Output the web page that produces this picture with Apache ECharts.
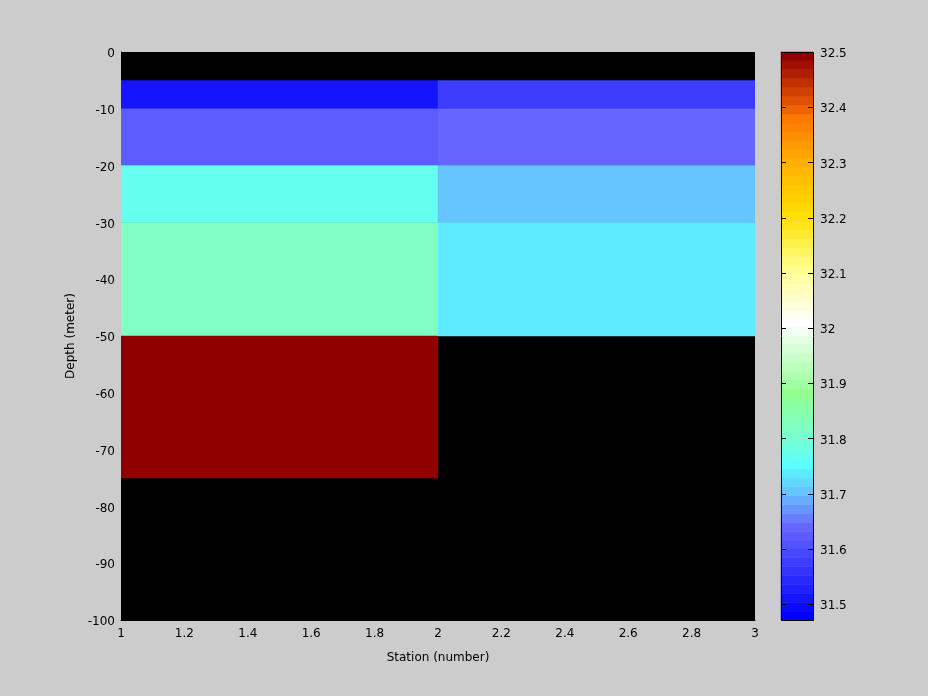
<!DOCTYPE html>
<html>
<head>
<meta charset="utf-8">
<script src="https://cdn.jsdelivr.net/npm/echarts@6/dist/echarts.min.js"></script>
<style>
html,body{margin:0;padding:0;background:#cccccc;}
#chart{width:928px;height:696px;}
</style>
</head>
<body>
<div id="chart"></div>
<script>
// ---- data ----
var stations = [1, 2, 3];                       // column edges
var depthEdges = [0, -5, -10, -20, -30, -50, -75, -100]; // row edges
var salinityStation1 = [null, 31.51, 31.624, 31.768, 31.817, 32.5, null];
var salinityStation2 = [null, 31.576, 31.64, 31.704, 31.736, null, null];
var xTicks = [1, 1.2, 1.4, 1.6, 1.8, 2, 2.2, 2.4, 2.6, 2.8, 3];
var yTicks = [0, -10, -20, -30, -40, -50, -60, -70, -80, -90, -100];
var cbarTicks = [31.5, 31.6, 31.7, 31.8, 31.9, 32.0, 32.1, 32.2, 32.3, 32.4, 32.5];
var cmin = 31.471, cmax = 32.5;
var nLevels = 64;

// ---- colormap (style) ----
var anchors = [
  [0, '#0000ff'], [10, '#6666ff'], [14, '#66c4ff'], [17, '#5cffff'],
  [21, '#80ffc4'], [25, '#90ff90'], [33, '#ffffff'], [39, '#ffff90'],
  [45, '#ffe000'], [51, '#ffb000'], [56, '#ff7800'], [58, '#e05000'],
  [63, '#900000']
];
function hex2rgb(h){return [parseInt(h.substr(1,2),16),parseInt(h.substr(3,2),16),parseInt(h.substr(5,2),16)];}
var cmap = [];
for (var k = 0; k < nLevels; k++) {
  var a = 0;
  while (a < anchors.length - 2 && anchors[a+1][0] < k) a++;
  var l0 = anchors[a][0], l1 = anchors[a+1][0];
  var c0 = hex2rgb(anchors[a][1]), c1 = hex2rgb(anchors[a+1][1]);
  var t = (k - l0) / (l1 - l0);
  var c = [0,1,2].map(function(i){return Math.round(c0[i] + (c1[i]-c0[i])*t);});
  cmap.push('rgb(' + c.join(',') + ')');
}
function colorFor(v){
  var idx = Math.floor((v - cmin) / (cmax - cmin) * nLevels);
  if (idx < 0) idx = 0; if (idx > nLevels - 1) idx = nLevels - 1;
  return cmap[idx];
}

// ---- cells ----
var cells = [];
var cols = [salinityStation1, salinityStation2];
for (var j = 0; j < cols.length; j++) {
  for (var i = 0; i < depthEdges.length - 1; i++) {
    var v = cols[j][i];
    if (v === null) continue;
    cells.push([stations[j], stations[j+1], depthEdges[i], depthEdges[i+1], v]);
  }
}
var cbarCells = [];
for (var k2 = 0; k2 < nLevels; k2++) {
  var step = (cmax - cmin) / nLevels;
  cbarCells.push([cmin + k2*step, cmin + (k2+1)*step, k2]);
}
var cbarTickData = cbarTicks.map(function(v){return [v];});

var font = 'DejaVu Sans, sans-serif';
var shiftRich = {s: {color: '#000', fontSize: 12, fontFamily: font, padding: [4, 0, 0, 0]}};
var chart = echarts.init(document.getElementById('chart'), null, {renderer: 'canvas'});
chart.setOption({
  backgroundColor: '#cccccc',
  animation: false,
  grid: [
    {left: 121, top: 52, width: 634, height: 568, show: true, backgroundColor: '#000000', borderWidth: 0},
    {left: 781, top: 52, width: 32, height: 568, show: false}
  ],
  xAxis: [
    {gridIndex: 0, type: 'value', min: 1, max: 3, interval: 0.2,
     name: 'Station (number)', nameLocation: 'middle', nameGap: 32,
     nameTextStyle: {color: '#000', fontSize: 12, fontFamily: font},
     axisLine: {show: true, onZero: false, lineStyle: {color: '#000'}},
     axisTick: {show: false},
     splitLine: {show: false},
     axisLabel: {color: '#000', fontSize: 12, fontFamily: font, margin: 8,
       customValues: xTicks, formatter: function(v){return String(+v.toFixed(1));}}},
    {gridIndex: 1, type: 'value', min: 0, max: 1, show: false}
  ],
  yAxis: [
    {gridIndex: 0, type: 'value', min: -100, max: 0, interval: 10,
     name: 'Depth (meter)', nameLocation: 'middle', nameGap: 39,
     nameTextStyle: {color: '#000', fontSize: 12, fontFamily: font},
     axisLine: {show: true, onZero: false, lineStyle: {color: '#000'}},
     axisTick: {show: false},
     splitLine: {show: false},
     axisLabel: {color: '#000', fontSize: 12, fontFamily: font, margin: 6, rich: shiftRich,
       formatter: function(v){return '{s|' + v + '}';}}},
    {gridIndex: 1, type: 'value', min: cmin, max: cmax, position: 'right',
     axisLine: {show: false},
     axisTick: {show: false},
     splitLine: {show: false},
     axisLabel: {color: '#000', fontSize: 12, fontFamily: font, margin: 7, customValues: cbarTicks,
       rich: shiftRich,
       formatter: function(v){return '{s|' + String(+(+v).toFixed(1)) + '}';}}}
  ],
  series: [
    {type: 'custom', xAxisIndex: 0, yAxisIndex: 0, data: cells, clip: true,
     renderItem: function(params, api){
       var p0 = api.coord([api.value(0), api.value(2)]);
       var p1 = api.coord([api.value(1), api.value(3)]);
       var col = colorFor(api.value(4));
       return {type: 'rect',
         shape: {x: Math.min(p0[0], p1[0]), y: Math.min(p0[1], p1[1]),
                 width: Math.abs(p1[0]-p0[0]), height: Math.abs(p1[1]-p0[1])},
         style: {fill: col, stroke: col, lineWidth: 0.5}};
     }},
    {type: 'custom', xAxisIndex: 1, yAxisIndex: 1, data: cbarCells, clip: false,
     renderItem: function(params, api){
       var p0 = api.coord([0, api.value(0)]);
       var p1 = api.coord([1, api.value(1)]);
       var col = cmap[api.value(2)];
       return {type: 'rect',
         shape: {x: p0[0], y: Math.min(p0[1], p1[1]), width: p1[0]-p0[0], height: Math.abs(p1[1]-p0[1])},
         style: {fill: col, stroke: col, lineWidth: 0.5}};
     }},
    {type: 'custom', xAxisIndex: 1, yAxisIndex: 1, data: [[cmin, cmax]], clip: false, z: 5,
     renderItem: function(params, api){
       var p0 = api.coord([0, api.value(0)]);
       var p1 = api.coord([1, api.value(1)]);
       return {type: 'rect',
         shape: {x: Math.round(p0[0]) + 0.5, y: Math.round(p1[1]) + 0.5,
                 width: Math.round(p1[0]-p0[0]), height: Math.round(p0[1]-p1[1])},
         style: {fill: 'none', stroke: '#000', lineWidth: 1}};
     }},
    {type: 'custom', xAxisIndex: 1, yAxisIndex: 1, data: cbarTickData, clip: false, z: 6,
     renderItem: function(params, api){
       var pl = api.coord([0, api.value(0)]);
       var pr = api.coord([1, api.value(0)]);
       var y = Math.round(pl[1]) + 0.5;
       return {type: 'group', children: [
         {type: 'line', shape: {x1: pl[0], y1: y, x2: pl[0] + 5, y2: y}, style: {stroke: '#000', lineWidth: 1}},
         {type: 'line', shape: {x1: pr[0] - 5, y1: y, x2: pr[0], y2: y}, style: {stroke: '#000', lineWidth: 1}}
       ]};
     }}
  ]
});
</script>
</body>
</html>
